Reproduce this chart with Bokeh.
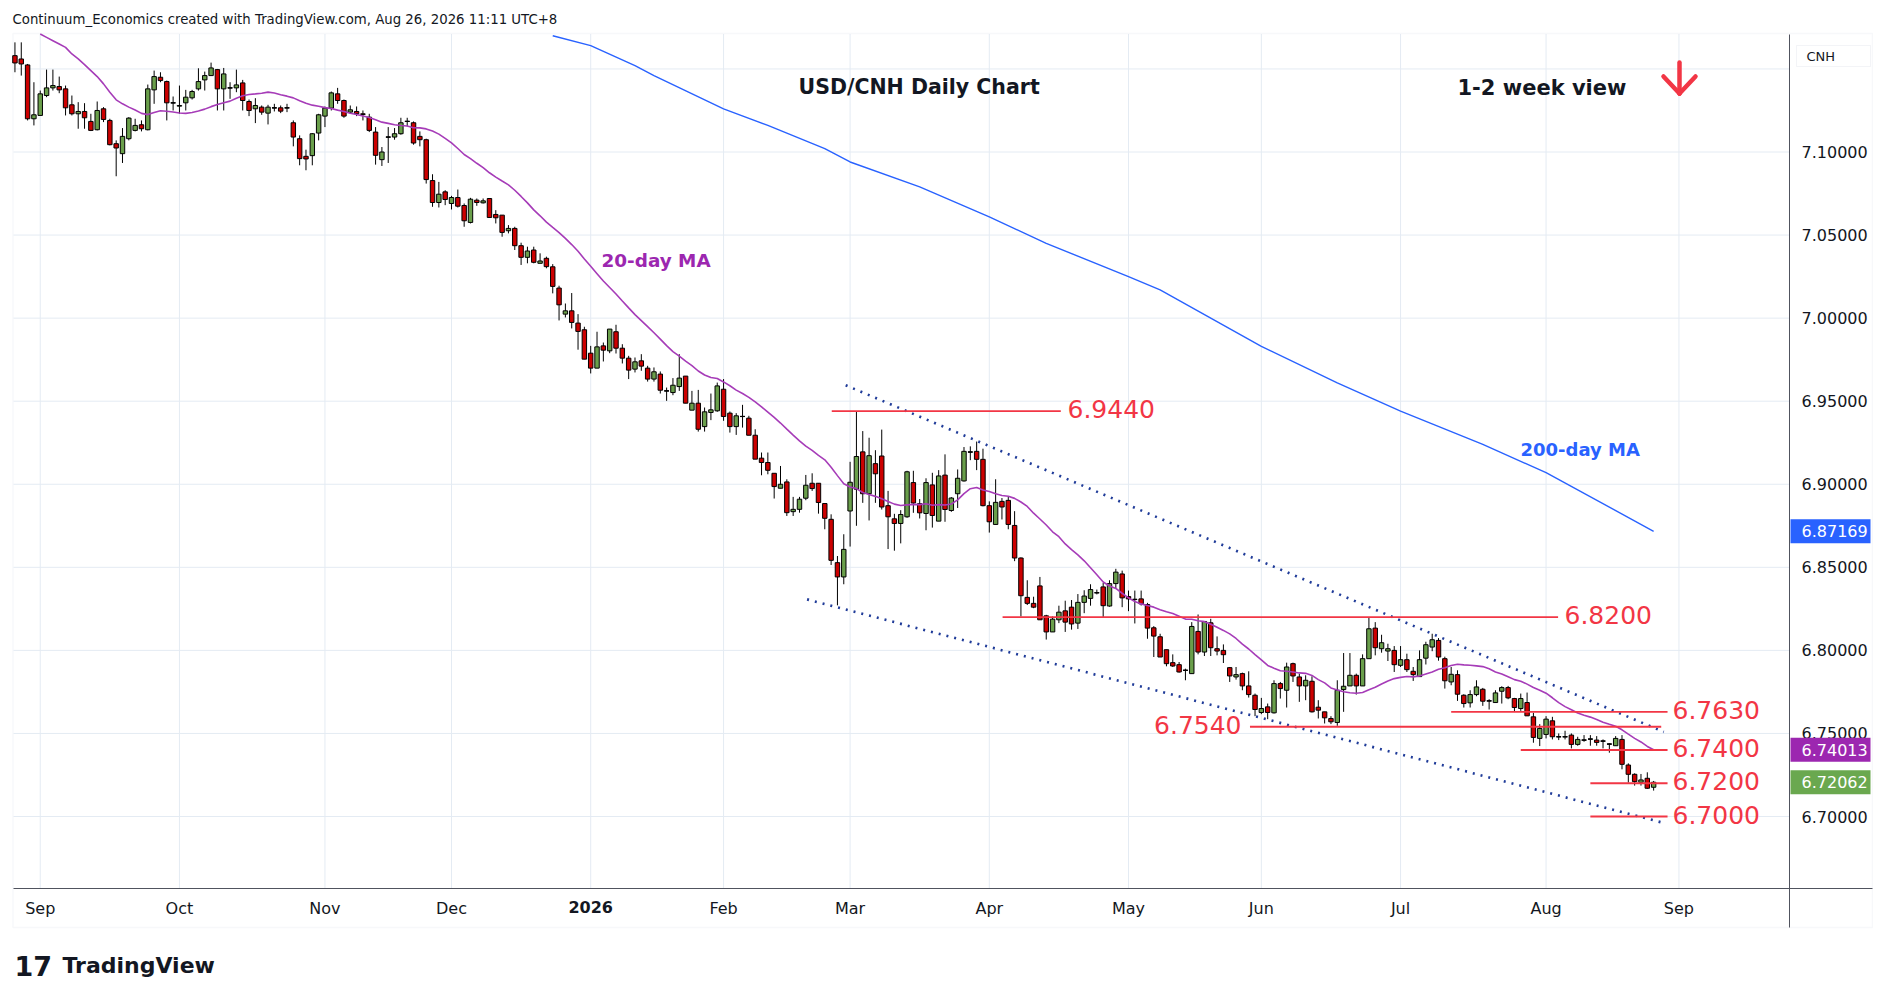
import numpy as np
import pandas as pd
from bokeh.plotting import figure
from bokeh.models import (ColumnDataSource, Label, FixedTicker, Range1d, Arrow,
                          BoxAnnotation, PrintfTickFormatter)
from bokeh.embed import file_html
from bokeh.resources import INLINE

# ---------------- data ----------------
opens = [7.158, 7.156, 7.1524, 7.12, 7.122, 7.134, 7.1386, 7.1394, 7.138, 7.1284,
         7.123, 7.1244, 7.1184, 7.1134, 7.126, 7.119, 7.105, 7.099, 7.108, 7.113,
         7.1164, 7.1134, 7.1374, 7.145, 7.1424, 7.1296, 7.1276, 7.1296, 7.1326, 7.138,
         7.1434, 7.146, 7.1496, 7.138, 7.1386, 7.1386, 7.1416, 7.1304, 7.126, 7.127,
         7.1234, 7.1266, 7.1266, 7.1266, 7.1176, 7.108, 7.0974, 7.0978, 7.1114, 7.1216,
         7.1264, 7.135, 7.131, 7.124, 7.1244, 7.123, 7.121, 7.112, 7.0954, 7.109,
         7.109, 7.111, 7.1184, 7.1176, 7.1094, 7.1074, 7.0828, 7.0696, 7.076, 7.069,
         7.0726, 7.0678, 7.0576, 7.071, 7.0694, 7.072, 7.0624, 7.062, 7.0526, 7.054,
         7.0436, 7.0366, 7.041, 7.033, 7.036, 7.0309, 7.0181, 7.0024, 7.0044, 6.997,
         6.993, 6.9789, 6.9699, 6.9833, 6.9803, 6.9918, 6.9819, 6.9759, 6.9693, 6.9743,
         6.9699, 6.9633, 6.9663, 6.9562, 6.9552, 6.9588, 6.9651, 6.9446, 6.9488, 6.9347,
         6.9432, 6.9442, 6.9572, 6.9428, 6.9347, 6.9408, 6.9398, 6.9295, 6.9157, 6.9131,
         6.9066, 6.8976, 6.9014, 6.8835, 6.8849, 6.8916, 6.9006, 6.9006, 6.8884, 6.8789,
         6.8528, 6.8442, 6.8839, 6.897, 6.9195, 6.8943, 6.9124, 6.917, 6.8871, 6.8792,
         6.8764, 6.8804, 6.901, 6.8883, 6.8824, 6.8996, 6.8778, 6.9055, 6.8842, 6.8943,
         6.902, 6.9194, 6.9198, 6.915, 6.8871, 6.8758, 6.8897, 6.8903, 6.8752, 6.8556,
         6.8319, 6.8283, 6.8388, 6.8208, 6.8111, 6.8184, 6.8238, 6.826, 6.8164, 6.8289,
         6.8313, 6.8347, 6.8382, 6.8267, 6.8402, 6.846, 6.8324, 6.8308, 6.831, 6.8276,
         6.8136, 6.8082, 6.8004, 6.7926, 6.7914, 6.788, 6.786, 6.8114, 6.799, 6.8166,
         6.801, 6.8, 6.7896, 6.784, 6.786, 6.7786, 6.773, 6.7626, 6.766, 6.7624,
         6.78, 6.776, 6.792, 6.784, 6.7786, 6.7814, 6.7658, 6.763, 6.759, 6.7566,
         6.7764, 6.7786, 6.785, 6.7786, 6.795, 6.8134, 6.801, 6.7996, 6.8, 6.791,
         6.7944, 6.7874, 6.7842, 6.7953, 6.802, 6.806, 6.795, 6.781, 6.7854, 6.773,
         6.7684, 6.7734, 6.7766, 6.7696, 6.7686, 6.7754, 6.7776, 6.771, 6.765, 6.7686,
         6.76, 6.747, 6.7494, 6.7576, 6.748, 6.748, 6.749, 6.7434, 6.746, 6.7466,
         6.746, 6.7454, 6.7436, 6.7426, 6.7464, 6.731, 6.7254, 6.7206, 6.723, 6.7176]

highs = [7.166, 7.166, 7.153, 7.142, 7.137, 7.1496, 7.1496, 7.1454, 7.14, 7.134,
         7.13, 7.1294, 7.123, 7.1304, 7.127, 7.12, 7.107, 7.1144, 7.121, 7.12,
         7.119, 7.1406, 7.149, 7.148, 7.143, 7.1334, 7.14, 7.1374, 7.1374, 7.1504,
         7.1484, 7.1538, 7.15, 7.1506, 7.142, 7.1496, 7.1434, 7.1316, 7.1324, 7.128,
         7.1284, 7.129, 7.128, 7.129, 7.119, 7.11, 7.1014, 7.1114, 7.123, 7.1274,
         7.1364, 7.1386, 7.1316, 7.128, 7.1274, 7.125, 7.123, 7.115, 7.103, 7.115,
         7.1144, 7.1206, 7.1206, 7.1184, 7.1124, 7.108, 7.0866, 7.082, 7.077, 7.0736,
         7.0774, 7.069, 7.0724, 7.072, 7.072, 7.072, 7.065, 7.062, 7.056, 7.055,
         7.0454, 7.043, 7.043, 7.039, 7.037, 7.0325, 7.0195, 7.0088, 7.0151, 7.0024,
         6.9948, 6.9833, 6.9918, 6.9853, 6.9934, 6.996, 6.9843, 6.9773, 6.9763, 6.9783,
         6.9713, 6.9703, 6.9679, 6.9582, 6.9639, 6.9783, 6.9651, 6.9562, 6.9568, 6.9462,
         6.9546, 6.9612, 6.9633, 6.9438, 6.9428, 6.9478, 6.9412, 6.9331, 6.9191, 6.9191,
         6.9066, 6.911, 6.903, 6.8924, 6.8924, 6.9056, 6.9066, 6.9006, 6.8884, 6.8819,
         6.8568, 6.8699, 6.9135, 6.944, 6.932, 6.928, 6.9205, 6.9329, 6.896, 6.8822,
         6.8844, 6.9081, 6.9081, 6.8911, 6.9036, 6.9069, 6.9085, 6.918, 6.8923, 6.9089,
         6.9224, 6.9228, 6.9257, 6.9214, 6.8897, 6.903, 6.8917, 6.8927, 6.8838, 6.856,
         6.8422, 6.8323, 6.8442, 6.8214, 6.8204, 6.8269, 6.8299, 6.8303, 6.8339, 6.8362,
         6.8398, 6.8366, 6.8406, 6.8422, 6.8491, 6.848, 6.836, 6.836, 6.836, 6.8286,
         6.8146, 6.81, 6.8004, 6.7976, 6.793, 6.789, 6.817, 6.8216, 6.8174, 6.819,
         6.8084, 6.8036, 6.79, 6.79, 6.7866, 6.7874, 6.774, 6.7714, 6.768, 6.782,
         6.781, 6.7926, 6.7926, 6.786, 6.785, 6.7844, 6.77, 6.763, 6.7604, 6.782,
         6.7984, 6.7984, 6.786, 6.7976, 6.82, 6.817, 6.8094, 6.804, 6.8026, 6.8026,
         6.798, 6.79, 6.8, 6.8052, 6.81, 6.8074, 6.7962, 6.79, 6.788, 6.7736,
         6.776, 6.782, 6.7774, 6.7706, 6.776, 6.7784, 6.7786, 6.7714, 6.774, 6.7746,
         6.7624, 6.7556, 6.7604, 6.76, 6.75, 6.7516, 6.75, 6.748, 6.749, 6.749,
         6.7484, 6.7464, 6.744, 6.7484, 6.749, 6.732, 6.726, 6.7256, 6.7266, 6.7214]

lows = [7.148, 7.146, 7.119, 7.116, 7.122, 7.133, 7.137, 7.1354, 7.122, 7.122,
        7.114, 7.114, 7.1126, 7.113, 7.118, 7.104, 7.0854, 7.0934, 7.107, 7.1124,
        7.1124, 7.113, 7.129, 7.142, 7.119, 7.125, 7.123, 7.125, 7.1316, 7.137,
        7.137, 7.146, 7.125, 7.125, 7.132, 7.136, 7.125, 7.1216, 7.1174, 7.1224,
        7.1166, 7.1244, 7.1234, 7.124, 7.1034, 7.092, 7.089, 7.092, 7.107, 7.115,
        7.125, 7.129, 7.1206, 7.123, 7.1216, 7.119, 7.112, 7.0924, 7.0916, 7.0934,
        7.1074, 7.1104, 7.1154, 7.1044, 7.1034, 7.081, 7.067, 7.0666, 7.068, 7.0654,
        7.0666, 7.055, 7.057, 7.0676, 7.069, 7.0604, 7.057, 7.049, 7.051, 7.041,
        7.032, 7.033, 7.033, 7.033, 7.03, 7.0149, 6.9986, 7.0004, 6.9938, 6.981,
        6.9753, 6.9667, 6.9699, 6.9739, 6.9789, 6.9787, 6.9727, 6.9633, 6.9673, 6.9683,
        6.9618, 6.9618, 6.9546, 6.9502, 6.9536, 6.9562, 6.9488, 6.9446, 6.9317, 6.9317,
        6.9386, 6.9436, 6.9382, 6.9311, 6.9297, 6.9341, 6.9295, 6.9151, 6.9054, 6.906,
        6.8914, 6.8976, 6.8809, 6.8809, 6.8829, 6.8904, 6.896, 6.8823, 6.8729, 6.8514,
        6.8271, 6.8398, 6.8625, 6.875, 6.8888, 6.8782, 6.8888, 6.8848, 6.861, 6.86,
        6.8644, 6.8798, 6.8828, 6.8794, 6.8723, 6.8739, 6.8778, 6.8774, 6.8834, 6.8857,
        6.9016, 6.9145, 6.9085, 6.8867, 6.8709, 6.8758, 6.8788, 6.8729, 6.8537, 6.8204,
        6.8273, 6.8254, 6.8184, 6.8065, 6.8111, 6.8164, 6.8111, 6.8125, 6.8129, 6.8224,
        6.8269, 6.8337, 6.82, 6.8263, 6.8372, 6.826, 6.8236, 6.8162, 6.827, 6.807,
        6.796, 6.796, 6.7904, 6.79, 6.7866, 6.782, 6.786, 6.7976, 6.7966, 6.7966,
        6.797, 6.7924, 6.781, 6.7824, 6.776, 6.7716, 6.7604, 6.7616, 6.7586, 6.762,
        6.771, 6.7656, 6.781, 6.769, 6.77, 6.7626, 6.759, 6.756, 6.7556, 6.7546,
        6.763, 6.7786, 6.7734, 6.7786, 6.795, 6.797, 6.7986, 6.7936, 6.787, 6.79,
        6.787, 6.7816, 6.7842, 6.7915, 6.7995, 6.7938, 6.777, 6.779, 6.7696, 6.7656,
        6.7656, 6.7724, 6.7666, 6.7644, 6.7684, 6.768, 6.7706, 6.7634, 6.7636, 6.7606,
        6.7444, 6.7424, 6.747, 6.7464, 6.746, 6.7464, 6.741, 6.7426, 6.745, 6.7426,
        6.7426, 6.741, 6.7384, 6.7426, 6.7284, 6.7204, 6.7186, 6.7186, 6.7166, 6.7156]

closes = [7.1536, 7.153, 7.12, 7.1224, 7.135, 7.1386, 7.14, 7.1374, 7.1266, 7.123,
          7.1244, 7.1206, 7.113, 7.125, 7.1196, 7.1044, 7.1024, 7.1094, 7.1204, 7.116,
          7.114, 7.138, 7.1454, 7.143, 7.1296, 7.1296, 7.128, 7.133, 7.1364, 7.1424,
          7.146, 7.1506, 7.138, 7.147, 7.1386, 7.1404, 7.131, 7.125, 7.128, 7.124,
          7.127, 7.1266, 7.1246, 7.1266, 7.109, 7.096, 7.0958, 7.111, 7.1224, 7.1264,
          7.1356, 7.131, 7.1216, 7.1254, 7.123, 7.1226, 7.113, 7.098, 7.1, 7.109,
          7.111, 7.1176, 7.1184, 7.1054, 7.1074, 7.0834, 7.0696, 7.0746, 7.0714, 7.0726,
          7.0674, 7.0586, 7.0716, 7.0696, 7.0706, 7.0606, 7.0604, 7.0516, 7.054, 7.0436,
          7.0366, 7.0404, 7.0336, 7.0344, 7.031, 7.0191, 7.008, 7.0044, 6.9974, 6.992,
          6.9753, 6.9699, 6.9827, 6.9807, 6.9934, 6.9819, 6.9759, 6.9687, 6.9737, 6.9711,
          6.9633, 6.9677, 6.9566, 6.9562, 6.9596, 6.9639, 6.9488, 6.9488, 6.9331, 6.9436,
          6.9448, 6.9592, 6.9408, 6.9347, 6.9412, 6.9408, 6.9295, 6.9151, 6.9131, 6.9084,
          6.8986, 6.9, 6.8829, 6.8849, 6.891, 6.8994, 6.8974, 6.889, 6.8795, 6.8542,
          6.8442, 6.8608, 6.9012, 6.9167, 6.8943, 6.9172, 6.9063, 6.8863, 6.8804, 6.8764,
          6.8818, 6.9075, 6.8887, 6.8828, 6.901, 6.8812, 6.905, 6.8848, 6.8917, 6.9036,
          6.9198, 6.9194, 6.915, 6.8871, 6.8774, 6.8891, 6.8863, 6.8758, 6.8556, 6.8329,
          6.8283, 6.826, 6.8184, 6.8111, 6.8188, 6.823, 6.817, 6.8159, 6.8289, 6.8327,
          6.8366, 6.8347, 6.8269, 6.8402, 6.8471, 6.8316, 6.831, 6.8306, 6.828, 6.8134,
          6.8086, 6.796, 6.792, 6.7906, 6.787, 6.788, 6.8144, 6.799, 6.8174, 6.8016,
          6.7996, 6.7974, 6.7846, 6.7854, 6.7786, 6.7734, 6.7644, 6.765, 6.7626, 6.78,
          6.777, 6.79, 6.7846, 6.7786, 6.782, 6.763, 6.764, 6.7594, 6.757, 6.776,
          6.7784, 6.785, 6.7786, 6.795, 6.813, 6.8016, 6.8046, 6.801, 6.7914, 6.7944,
          6.7884, 6.7854, 6.7944, 6.8034, 6.8064, 6.796, 6.7817, 6.7856, 6.7736, 6.768,
          6.7734, 6.778, 6.7694, 6.7696, 6.7744, 6.7776, 6.7714, 6.7656, 6.771, 6.7606,
          6.7476, 6.753, 6.7586, 6.748, 6.748, 6.748, 6.7434, 6.7464, 6.746, 6.7466,
          6.7446, 6.7454, 6.7436, 6.747, 6.7314, 6.7254, 6.721, 6.722, 6.717, 6.7206]

# visible part of the 20-day MA before 20 closes exist (bars 4-18; above the pane before)
ma20_head_bars = [4, 5, 6, 7, 8, 9, 10, 11, 12, 13, 14, 15, 16, 17, 18]
ma20_head_vals = [7.171, 7.169, 7.167, 7.165, 7.163, 7.159, 7.156, 7.1526, 7.149,
                  7.1454, 7.141, 7.136, 7.1314, 7.129, 7.127]

# 200-day MA (bar index, value), from where it enters the pane
ma200_bars = [85, 91, 98, 101, 112, 119, 128, 132, 143, 154, 163, 176, 181,
              197, 209, 219, 232, 242, 259]
ma200_vals = [7.170, 7.164, 7.152, 7.146, 7.126, 7.116, 7.102, 7.094, 7.079,
              7.061, 7.045, 7.025, 7.017, 6.983, 6.961, 6.944, 6.924, 6.907, 6.87169]

# month starts (bar index) and labels
month_bars = [4, 26, 49, 69, 91, 112, 132, 154, 176, 197, 219, 242, 263]
month_labels = ["Sep", "Oct", "Nov", "Dec", "2026", "Feb", "Mar", "Apr", "May",
                "Jun", "Jul", "Aug", "Sep"]
price_ticks = [6.70, 6.75, 6.80, 6.85, 6.90, 6.95, 7.00, 7.05, 7.10, 7.15]

# horizontal support / resistance levels
levels = [6.944, 6.82, 6.763, 6.754, 6.74, 6.72, 6.70]
level_from = [129.1, 156.1, 227.0, 195.2, 238.0, 249.0, 249.0]
level_to = [165.3, 243.9, 261.2, 260.2, 261.2, 261.2, 261.2]
level_text = ["6.9440", "6.8200", "6.7630", "6.7540", "6.7400", "6.7200", "6.7000"]

# channel trendlines (bar index, price)
upper_bars = [131.3, 260.6]
upper_vals = [6.9596, 6.7509]
lower_bars = [125.2, 261.0]
lower_vals = [6.8307, 6.6957]

# price-axis tags: 200-day MA, 20-day MA, last close
tag_values = [6.87169, 6.74013, 6.72062]
tag_colors = ["#2962ff", "#9c27b0", "#6aa84f"]

# ---------------- layout (pixel <-> data helpers) ----------------
W, H = 1873, 985
PX0, PXB = 14.44, 6.327          # px of bar 0, px per bar
PY0, PYU = 151.5, 1661.25        # px of 7.10, px per price unit


def bx(px):
    return (px - PX0) / PXB


def by(py):
    return 7.10 - (py - PY0) / PYU


PL, PR, PT, PB = 13, 1789, 33.5, 888   # price pane edges

p = figure(width=W, height=H, title=None, x_range=Range1d(bx(0), bx(W)),
           y_range=Range1d(by(H), by(0)), output_backend="svg", toolbar_location=None,
           y_axis_location="right", min_border=0)
p.min_border_left = 0
p.min_border_right = 0
p.min_border_top = 0
p.min_border_bottom = 0
p.outline_line_color = None
p.background_fill_color = "white"
p.border_fill_color = "white"
p.xgrid.visible = False
p.ygrid.visible = False

FONT = "DejaVu Sans"
TXT = "#131722"
GRID = "#e4ebf3"

# grid lines limited to the price pane
p.segment(x0=bx(PL), x1=bx(PR), y0=price_ticks, y1=price_ticks, line_color=GRID,
          line_width=1, level="underlay")
p.segment(x0=month_bars, x1=month_bars, y0=by(PT), y1=by(PB), line_color=GRID,
          line_width=1, level="underlay")

# chart box
p.add_layout(BoxAnnotation(left=bx(12.5), right=bx(1872), top=by(33), bottom=by(927),
                           fill_color=None, line_color="#e6e9ef", line_width=1.5,
                           level="underlay"))

# axes fixed at the pane edges
p.xaxis.fixed_location = by(PB)
p.xaxis.bounds = (bx(12.5), bx(1872))
p.xaxis.ticker = FixedTicker(ticks=month_bars)
p.xaxis.major_label_overrides = {b: ("" if lab == "2026" else lab)
                                 for b, lab in zip(month_bars, month_labels)}
p.yaxis.fixed_location = bx(PR)
p.yaxis.bounds = (by(927), by(PT))
p.yaxis.ticker = FixedTicker(ticks=price_ticks)
p.yaxis.formatter = PrintfTickFormatter(format="%.5f")
p.yaxis.major_label_overrides = {7.15: ""}
for ax in (p.xaxis, p.yaxis):
    ax.axis_line_color = "#50535e"
    ax.axis_line_width = 1
    ax.major_tick_line_color = None
    ax.minor_tick_line_color = None
    ax.major_tick_out = 0
    ax.major_tick_in = 0
    ax.minor_tick_out = 0
    ax.minor_tick_in = 0
    ax.major_label_text_font = FONT
    ax.major_label_text_font_size = "16px"
    ax.major_label_text_color = TXT
p.xaxis.major_label_standoff = 10
p.yaxis.major_label_standoff = 12

# candles
o = np.array(opens)
h = np.array(highs)
l = np.array(lows)
c = np.array(closes)
idx = np.arange(len(c))
up = c >= o
src = ColumnDataSource(dict(x=idx, h=h, l=l, top=np.maximum(o, c), bottom=np.minimum(o, c),
                            color=np.where(up, "#6a9f4b", "#cc0000")))
p.segment(x0="x", y0="h", x1="x", y1="l", source=src, line_color="black", line_width=1)
p.vbar(x="x", width=0.7, top="top", bottom="bottom", source=src,
       fill_color="color", line_color="black", line_width=1)
doji = np.abs(c - o) < 0.00015
p.segment(x0=idx[doji] - 0.38, x1=idx[doji] + 0.38, y0=c[doji], y1=c[doji],
          line_color="black", line_width=1.2)

# moving averages
ma20 = pd.Series(c).rolling(20).mean().to_numpy()
ma20[ma20_head_bars] = ma20_head_vals
p.line(idx, ma20, line_color="#a63cb8", line_width=1.6)
p.line(ma200_bars, ma200_vals, line_color="#2962ff", line_width=1.4)

# trendlines
p.line(upper_bars, upper_vals, line_color="#203c99", line_width=2.6, line_dash="2 6")
p.line(lower_bars, lower_vals, line_color="#203c99", line_width=2.6, line_dash="2 6")

# levels
RED = "#f23645"
p.segment(x0=level_from, x1=level_to, y0=levels, y1=levels, line_color=RED, line_width=1.9)
lift = 2 / PYU
label_left = {"6.9440": bx(1067), "6.8200": bx(1564), "6.7630": bx(1672),
              "6.7400": bx(1672), "6.7200": bx(1672), "6.7000": bx(1672)}
for lev, txt in zip(levels, level_text):
    if txt == "6.7540":
        p.add_layout(Label(x=bx(1241), y=lev + lift, text=txt, text_font=FONT,
                           text_font_size="25px", text_color=RED, text_align="right",
                           text_baseline="middle"))
    else:
        p.add_layout(Label(x=label_left[txt], y=lev + lift, text=txt, text_font=FONT,
                           text_font_size="25px", text_color=RED, text_align="left",
                           text_baseline="middle"))

# texts
p.add_layout(Label(x=bx(12), y=by(19),
                   text="Continuum_Economics created with TradingView.com, Aug 26, 2026 11:11 UTC+8",
                   text_font=FONT, text_font_size="13.3px", text_color=TXT, text_baseline="middle"))
p.add_layout(Label(x=bx(798), y=by(86), text="USD/CNH Daily Chart", text_font=FONT,
                   text_font_size="20.5px", text_font_style="bold", text_color=TXT,
                   text_baseline="middle"))
p.add_layout(Label(x=bx(1457), y=by(87), text="1-2 week view", text_font=FONT,
                   text_font_size="21px", text_font_style="bold", text_color=TXT,
                   text_baseline="middle"))
p.add_layout(Label(x=bx(601), y=by(260), text="20-day MA", text_font=FONT,
                   text_font_size="18.4px", text_font_style="bold", text_color="#9c27b0",
                   text_baseline="middle"))
p.add_layout(Label(x=bx(1520), y=by(449), text="200-day MA", text_font=FONT,
                   text_font_size="18px", text_font_style="bold", text_color="#2962ff",
                   text_baseline="middle"))

# red down arrow
for xs, ys, xe, ye in [(1679, 62, 1679, 93), (1663, 76, 1679, 93), (1695, 76, 1679, 93)]:
    p.add_layout(Arrow(x_start=bx(xs), y_start=by(ys), x_end=bx(xe), y_end=by(ye),
                       end=None, line_color=RED, line_width=4.5, line_cap="round"))

# bold year label on the time axis
p.add_layout(Label(x=91, y=by(906), text="2026", text_font=FONT, text_font_size="16px",
                   text_font_style="bold", text_color=TXT, text_align="center",
                   text_baseline="middle"))

# price-axis value tags
half = 12 / PYU
for val, col in zip(tag_values, tag_colors):
    p.add_layout(BoxAnnotation(left=bx(1790), right=bx(1870), top=val + half,
                               bottom=val - half, fill_color=col, fill_alpha=1,
                               line_color=None))
    p.add_layout(Label(x=bx(1801), y=val, text="%.5f" % val, text_font=FONT,
                       text_font_size="16px", text_color="white", text_baseline="middle"))

# CNH tag
p.add_layout(BoxAnnotation(left=bx(1796), right=bx(1870), top=by(45), bottom=by(66),
                           fill_color="white", fill_alpha=1, line_color="#d6dae3",
                           line_width=1))
p.add_layout(Label(x=bx(1806), y=by(55.5), text="CNH", text_font=FONT, text_font_size="13px",
                   text_color=TXT, text_baseline="middle"))

# TradingView logo
p.add_layout(Label(x=bx(14), y=by(965), text="17", text_font=FONT, text_font_size="27px",
                   text_font_style="bold", text_color=TXT, text_baseline="middle"))
p.add_layout(Label(x=bx(62), y=by(965), text="TradingView", text_font=FONT,
                   text_font_size="22px", text_font_style="bold", text_color=TXT,
                   text_baseline="middle"))

open("out.html", "w").write(file_html(p, INLINE))
